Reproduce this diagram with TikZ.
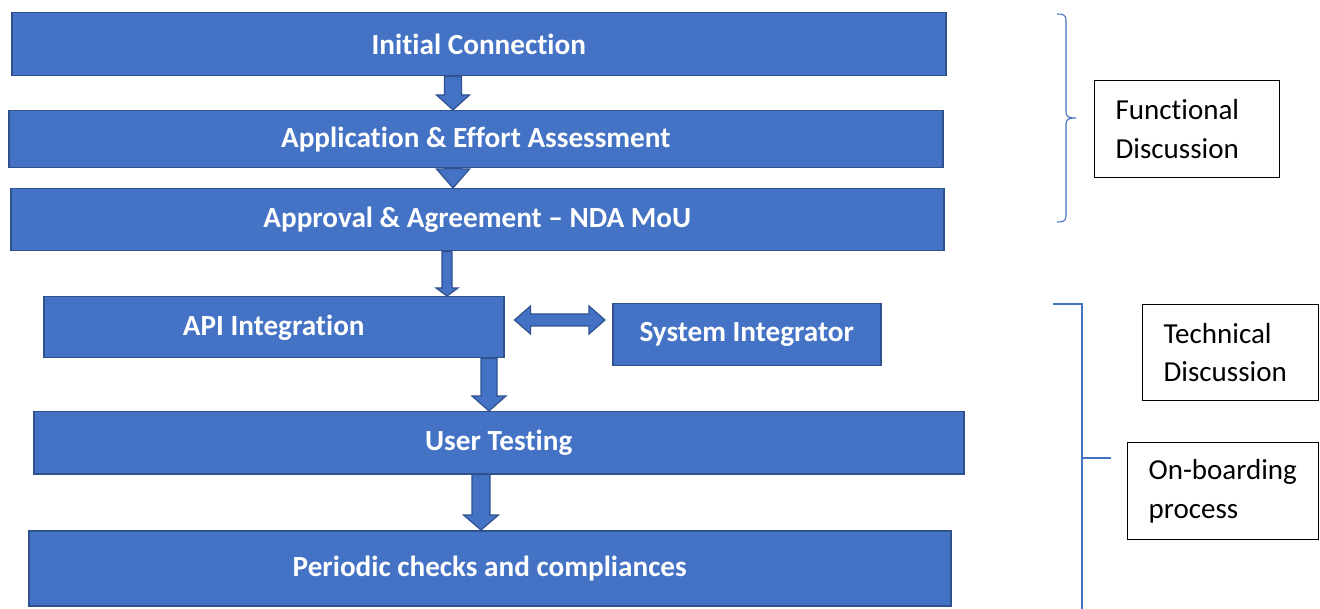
\documentclass[tikz,border=0pt]{standalone}
\usepackage{fontspec}
\setmainfont{Carlito}[Ligatures=NoCommon]
\usetikzlibrary{calc}
\definecolor{boxblue}{HTML}{4472C4}
\definecolor{boxedge}{HTML}{2F528F}
\newcommand\vdarrow[6]{%
  \draw[arr] let \p1=(#2), \p2=(#3) in
    (#1pt-#4pt,\y1) -- (#1pt+#4pt,\y1) -- (#1pt+#4pt,\y2+#6pt) -- (#1pt+#5pt,\y2+#6pt)
    -- (#1pt,\y2) -- (#1pt-#5pt,\y2+#6pt) -- (#1pt-#4pt,\y2+#6pt) -- cycle;}
\begin{document}
\begin{tikzpicture}[x=1pt,y=-1pt,
  stepbox/.style={draw=boxedge,fill=boxblue,line width=1.5pt,text=white,
    font=\fontsize{29.2}{35}\selectfont\bfseries,anchor=north west,inner sep=0pt},
  arr/.style={draw=boxedge,fill=boxblue,line width=1.2pt,line join=miter},
  labelbox/.style={draw=black,line width=1.3pt,align=left,anchor=north west,
    font=\fontsize{29}{38.5}\selectfont,inner ysep=0pt,inner xsep=21pt},
  brace/.style={draw=boxblue,line width=1.1pt}]
\useasboundingbox (0,0) rectangle (1320,609);
% steps
\node[stepbox,minimum width=934pt,minimum height=63pt] (b1) at (11,12) {Initial Connection};
\node[stepbox,minimum width=934pt,minimum height=57pt] (b2) at (8,110) {Application \& Effort Assessment};
\node[stepbox,minimum width=933pt,minimum height=62pt] (b3) at (10,188) {Approval \& Agreement -- NDA MoU};
\node[stepbox,minimum width=460pt,minimum height=61pt] (b4) at (43,296) {API Integration};
\node[stepbox,minimum width=268pt,minimum height=62pt] (b5) at (612,303) {System Integrator};
\node[stepbox,minimum width=930pt,minimum height=62pt] (b6) at (33,411) {User Testing};
\node[stepbox,minimum width=922pt,minimum height=75pt] (b7) at (28,530) {Periodic checks and compliances};
% arrows
\vdarrow{453}{b1.south}{b2.north}{8.5}{16.5}{15}
\vdarrow{453}{b2.south}{b3.north}{8.5}{16.5}{19}
\vdarrow{447}{b3.south}{b4.north}{5}{11}{8}
\vdarrow{489}{b4.south}{b6.north}{8}{17}{15}
\vdarrow{481}{b6.south}{b7.north}{9}{17.5}{15}
\draw[arr] let \p1=(b4.east), \p2=(b5.west) in
  (\x1+10pt,-320pt) -- (\x1+26pt,-306pt) -- (\x1+26pt,-314pt) -- (\x2-23pt,-314pt)
  -- (\x2-23pt,-306pt) -- (\x2-7pt,-320pt) -- (\x2-23pt,-334pt) -- (\x2-23pt,-326pt)
  -- (\x1+26pt,-326pt) -- (\x1+26pt,-334pt) -- cycle;
% labels
\node[labelbox,minimum width=185pt,minimum height=97pt,text width=143pt] (f) at (1094,80) {Functional\\Discussion};
\node[labelbox,minimum width=176pt,minimum height=96pt,text width=134pt] (t) at (1142,304) {Technical\\Discussion};
\node[labelbox,minimum width=191pt,minimum height=97pt,text width=149pt] (o) at (1127,442) {On-boarding\\process};
% braces
\draw[brace] (1057,14) .. controls (1063,14) and (1066,15) .. (1066,20) -- (1066,112)
  .. controls (1066,117) and (1069,118) .. (1076,118)
  .. controls (1069,118) and (1066,119) .. (1066,124) -- (1066,216)
  .. controls (1066,221) and (1063,222) .. (1057,222);
\draw[brace] (1053,304) -- (1082,304) -- (1082,612);
\draw[brace] (1082,458) -- (1111,458);
\end{tikzpicture}
\end{document}
